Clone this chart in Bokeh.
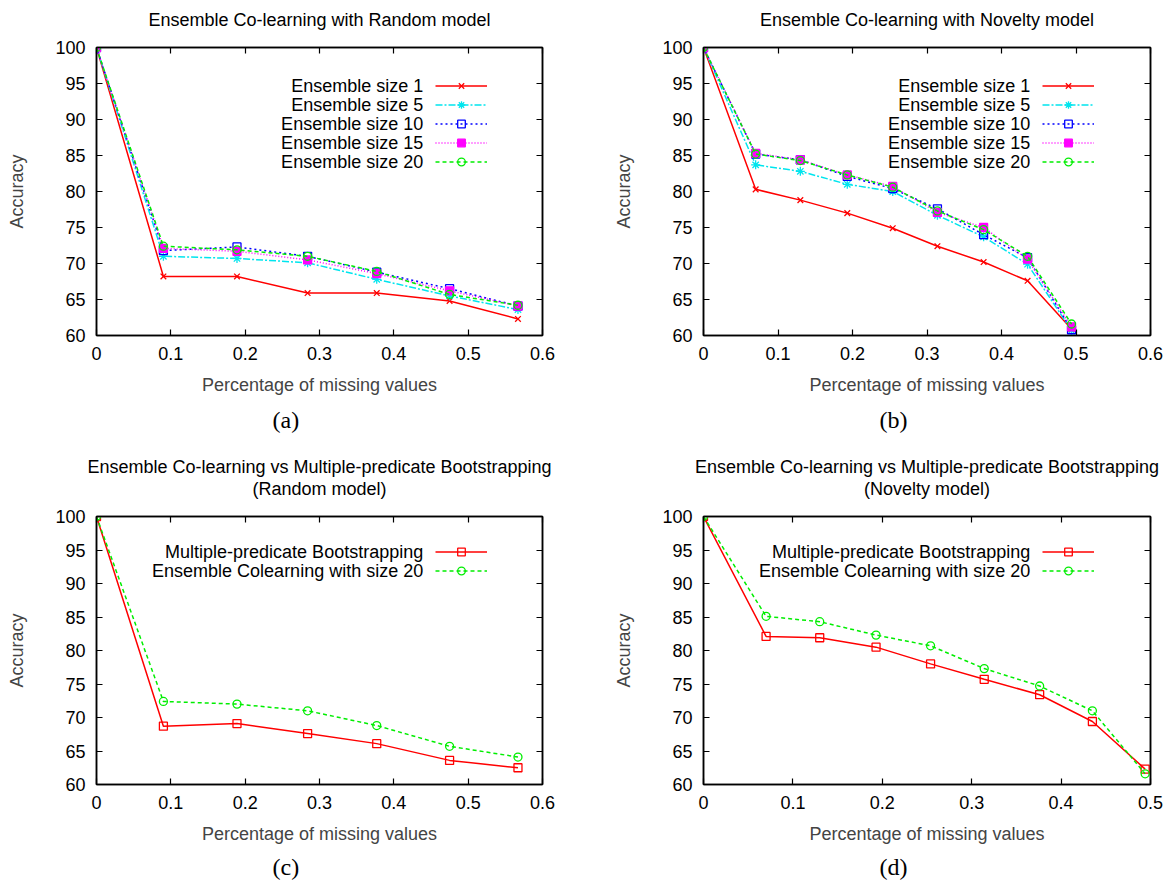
from bokeh.plotting import figure
from bokeh.models import Range1d, FixedTicker, LinearAxis, Legend, LegendItem, Label, Title
from bokeh.layouts import row, column
from bokeh.embed import file_html
from bokeh.resources import INLINE

# ---------------- data ----------------
x_random = [0, 0.09, 0.189, 0.284, 0.377, 0.475, 0.567]
x_novelty = [0, 0.07, 0.13, 0.193, 0.254, 0.314, 0.376, 0.435, 0.494]

rand_size1 = [100, 68.2, 68.2, 65.9, 65.9, 64.8, 62.3]
rand_size5 = [100, 71.0, 70.7, 70.1, 67.8, 65.5, 63.6]
rand_size10 = [100, 71.8, 72.3, 71.0, 68.8, 66.5, 64.1]
rand_size15 = [100, 72.1, 71.7, 70.5, 68.6, 66.2, 64.1]
rand_size20 = [100, 72.4, 71.9, 71.0, 68.9, 65.7, 64.2]

nov_size1 = [100, 80.3, 78.8, 77.0, 74.9, 72.4, 70.2, 67.6, 60.9]
nov_size5 = [100, 83.7, 82.8, 81.0, 80.0, 76.7, 73.7, 69.9, 60.7]
nov_size10 = [100, 85.2, 84.4, 82.1, 80.4, 77.6, 74.0, 70.8, 60.8]
nov_size15 = [100, 85.3, 84.4, 82.3, 80.7, 77.1, 75.0, 70.6, 61.2]
nov_size20 = [100, 85.2, 84.3, 82.3, 80.6, 77.3, 74.7, 71.0, 61.6]

rand_mpb = [100, 68.7, 69.1, 67.6, 66.1, 63.6, 62.5]
rand_ec20 = [100, 72.4, 72.0, 71.0, 68.8, 65.7, 64.1]
nov_mpb = [100, 82.1, 81.9, 80.5, 78.0, 75.7, 73.4, 69.4, 62.3]
nov_ec20 = [100, 85.1, 84.3, 82.3, 80.7, 77.3, 74.7, 71.0, 61.6]

ensemble_names = ["Ensemble size 1", "Ensemble size 5", "Ensemble size 10",
                  "Ensemble size 15", "Ensemble size 20"]
compare_names = ["Multiple-predicate Bootstrapping", "Ensemble Colearning with size 20"]

x_ticks_06 = [0, 0.1, 0.2, 0.3, 0.4, 0.5, 0.6]
x_labels_06 = ["0", "0.1", "0.2", "0.3", "0.4", "0.5", "0.6"]
x_ticks_05 = [0, 0.1, 0.2, 0.3, 0.4, 0.5]
x_labels_05 = ["0", "0.1", "0.2", "0.3", "0.4", "0.5"]
y_ticks = [60, 65, 70, 75, 80, 85, 90, 95, 100]
y_labels = ["60", "65", "70", "75", "80", "85", "90", "95", "100"]

titles = [["Ensemble Co-learning with Random model"],
          ["Ensemble Co-learning with Novelty model"],
          ["Ensemble Co-learning vs Multiple-predicate Bootstrapping", "(Random model)"],
          ["Ensemble Co-learning vs Multiple-predicate Bootstrapping", "(Novelty model)"]]
captions = ["(a)", "(b)", "(c)", "(d)"]
x_title = "Percentage of missing values"
y_title = "Accuracy"

# ---------------- styles ----------------
FONT = "Liberation Sans"
FS = "18px"
ens_styles = [
    dict(color="#ff0000", dash="solid", marker="x", size=8, fill=None),
    dict(color="#00e5ee", dash="7 2 2 2", marker="asterisk", size=9, fill=None),
    dict(color="#0000ff", dash="2 3", marker="square", size=8, fill=None),
    dict(color="#ff00ff", dash="1 2", marker="square", size=8, fill="#ff00ff"),
    dict(color="#00ee00", dash="4 3", marker="circle", size=8, fill=None),
]
cmp_styles = [
    dict(color="#ff0000", dash="solid", marker="square", size=8, fill=None),
    dict(color="#00ee00", dash="4 3", marker="circle", size=8, fill=None),
]


def style_axis(ax, ticks, labels, show_labels=True):
    ax.ticker = FixedTicker(ticks=ticks)
    ax.major_label_overrides = {t: l for t, l in zip(ticks, labels)}
    ax.major_tick_in = 6
    ax.major_tick_out = 0
    ax.major_tick_line_color = "black"
    ax.major_tick_line_width = 1.2
    ax.minor_tick_line_color = None
    ax.axis_line_color = "black"
    ax.axis_line_width = 1.5
    ax.major_label_text_font = FONT
    ax.major_label_text_font_size = FS
    if show_labels:
        ax.major_label_text_color = "black"
    else:
        ax.major_label_text_color = None
        ax.major_label_standoff = 0


def make_panel(idx, width, height, mb, x_end, xt, xl, xs, ys_list, names, styles,
               legend_top, frame_w, frame_h, cap_standoff):
    p = figure(width=width, height=height, x_range=Range1d(0, x_end),
               y_range=Range1d(60, 100), output_backend="svg", toolbar_location=None,
               min_border_left=mb[0], min_border_right=mb[1],
               min_border_top=mb[2], min_border_bottom=mb[3])
    p.background_fill_color = "white"
    p.border_fill_color = "white"
    p.outline_line_color = "black"
    p.outline_line_width = 1.5
    p.xgrid.visible = False
    p.ygrid.visible = False
    p.title.text = ""

    style_axis(p.xaxis[0], xt, xl)
    p.xaxis.axis_label = x_title
    p.xaxis.axis_label_text_font = FONT
    p.xaxis.axis_label_text_font_size = FS
    p.xaxis.axis_label_text_font_style = "normal"
    p.xaxis.axis_label_standoff = 12
    p.xaxis.major_label_standoff = 11

    style_axis(p.yaxis[0], y_ticks, y_labels)
    p.yaxis.axis_label = y_title
    p.yaxis.axis_label_text_font = FONT
    p.yaxis.axis_label_text_font_size = FS
    p.yaxis.axis_label_text_font_style = "normal"
    p.yaxis.axis_label_standoff = 25
    p.yaxis.major_label_standoff = 11

    top = LinearAxis()
    style_axis(top, xt, xl, show_labels=False)
    p.add_layout(top, "above")
    right = LinearAxis()
    style_axis(right, y_ticks, y_labels, show_labels=False)
    p.add_layout(right, "right")

    # title lines: the line nearest the frame is added first; a trailing
    # newline leaves a gap between the title and the frame
    lines = titles[idx]
    for j, line in enumerate(reversed(lines)):
        txt = line + "\n" if j == 0 else line
        t = Title(text=txt, align="center", text_font=FONT, text_font_size=FS,
                  text_font_style="normal", text_color="black",
                  text_line_height=0.9, standoff=0)
        p.add_layout(t, "above")

    cap = Title(text=captions[idx], align="left", offset=176,
                text_font="Liberation Serif", text_font_size="24px",
                text_font_style="normal", text_color="black", standoff=cap_standoff)
    p.add_layout(cap, "below")

    items = []
    for ys, st in zip(ys_list, styles):
        lr = p.line(xs, ys, line_color=st["color"], line_width=1.5, line_dash=st["dash"])
        sr = p.scatter(xs, ys, marker=st["marker"], size=st["size"],
                       line_color=st["color"], fill_color=st["fill"], line_width=1.3)
        items.append(LegendItem(label="", renderers=[lr, sr]))

    n = len(items)
    row_h = 19
    leg = Legend(items=items, location=(338.5, frame_h - legend_top - n * row_h),
                 glyph_width=52, glyph_height=row_h, label_height=row_h,
                 label_width=0, label_standoff=0, spacing=0, padding=0, margin=0,
                 border_line_color=None, background_fill_alpha=0,
                 label_text_font_size="1px")
    p.add_layout(leg)

    for i, name in enumerate(names):
        cy = frame_h - (legend_top + row_h / 2 + i * row_h)
        p.add_layout(Label(x=326.7, y=cy, x_units="screen", y_units="screen",
                           text=name, text_align="right", text_baseline="middle",
                           text_font=FONT, text_font_size=FS, text_color="black"))
    return p


pa = make_panel(0, 596, 440, (96, 54, 47, 104), 0.6, x_ticks_06, x_labels_06, x_random,
                [rand_size1, rand_size5, rand_size10, rand_size15, rand_size20],
                ensemble_names, ens_styles, 29.5, 446, 289, 15)
pb = make_panel(1, 576, 440, (107, 22, 47, 104), 0.6, x_ticks_06, x_labels_06, x_novelty,
                [nov_size1, nov_size5, nov_size10, nov_size15, nov_size20],
                ensemble_names, ens_styles, 29.5, 447, 289, 15)
pc = make_panel(2, 596, 444, (96, 54, 76, 99), 0.6, x_ticks_06, x_labels_06, x_random,
                [rand_mpb, rand_ec20], compare_names, cmp_styles, 27.0, 446, 269, 10)
pd = make_panel(3, 576, 444, (107, 22, 76, 99), 0.5, x_ticks_05, x_labels_05, x_novelty,
                [nov_mpb, nov_ec20], compare_names, cmp_styles, 27.0, 447, 269, 10)

layout = column(row(pa, pb), row(pc, pd))
open("out.html", "w").write(file_html(layout, INLINE))
